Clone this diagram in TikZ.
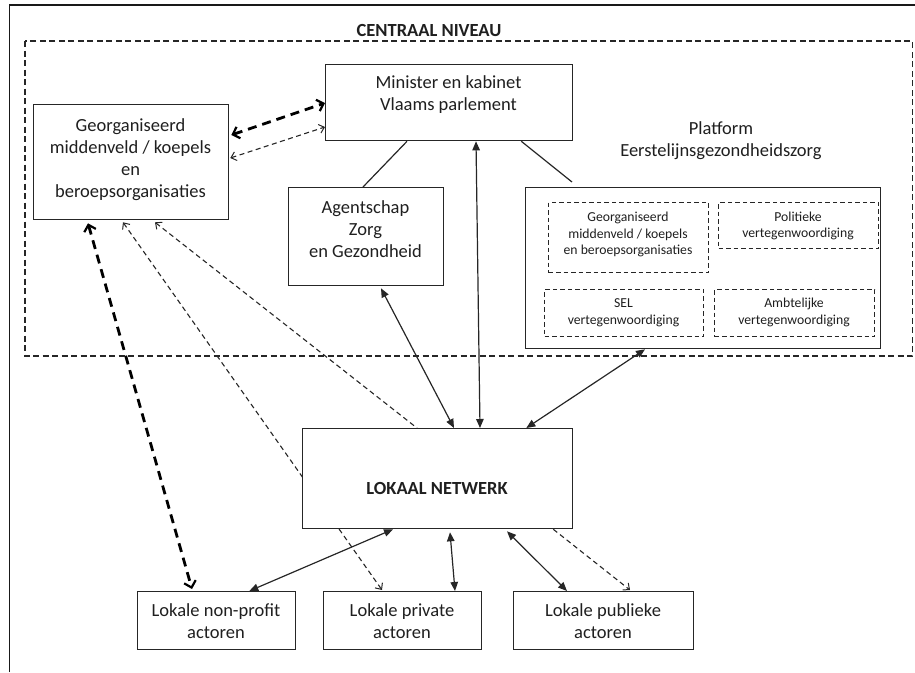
\documentclass[tikz,border=0pt]{standalone}
\usepackage{fontspec}
\setmainfont{Carlito}
\usetikzlibrary{arrows.meta,backgrounds}
\tikzset{
  thinhead/.tip={Straight Barb[length=5pt,width=9pt,line width=1pt]},
  thickhead/.tip={Straight Barb[length=6pt,width=12pt,line width=2.2pt]},
  solidhead/.tip={Triangle[length=9pt,width=7.5pt]}
}
\begin{document}
\begin{tikzpicture}[x=1pt,y=-1pt,
  box/.style={draw=black!85, line width=1.3pt, fill=white, inner sep=0pt, anchor=north west},
  dbox/.style={draw=black!85, line width=1.1pt, dash pattern=on 4.5pt off 3pt, inner sep=0pt, anchor=north west},
  txt/.style={align=center, font=\fontsize{18.5}{22}\selectfont, text=black!88, inner sep=0pt},
  btxt/.style={align=center, font=\fontsize{18.5}{22}\selectfont\bfseries, text=black!88, inner sep=0pt},
  stxt/.style={align=center, font=\fontsize{13.7}{16.5}\selectfont, text=black!88, inner sep=0pt},
  solidarrow/.style={draw=black!85, line width=1.2pt, solidhead-solidhead},
  solidline/.style={draw=black!85, line width=1.2pt},
  thindash/.style={draw=black!85, line width=1.1pt, dash pattern=on 5pt off 3.5pt},
  thickdash/.style={draw=black, line width=2.8pt, dash pattern=on 9pt off 6pt}
]
\useasboundingbox (0,0) rectangle (915,672);
% outer frame (right and bottom edges lie outside the picture)
\draw[line width=1.8pt, draw=black!90] (9.5,672) -- (9.5,5) -- (916,5);
% central level
\node[btxt] (central) at (429,31) {CENTRAAL NIVEAU};
\draw[draw=black!85, line width=1.3pt, dash pattern=on 6pt off 3.5pt] (25,41) rectangle (912.5,356);

% boxes
\node[box, minimum width=247pt, minimum height=76pt] (minister) at (325,64) {};
\node[txt] (ministert) at (448.5,95) {Minister en kabinet\\Vlaams parlement};

\node[box, minimum width=195pt, minimum height=115pt] (georg) at (33,104) {};
\node[txt] (georgt) at (130.5,160) {Georganiseerd\\middenveld / koepels\\en\\beroepsorganisaties};

\node[box, minimum width=155pt, minimum height=98pt] (agent) at (288,187) {};
\node[txt] (agentt) at (365.5,229.5) {Agentschap\\Zorg\\en Gezondheid};

\node[txt] (platformt) at (721,141) {Platform\\Eerstelijnsgezondheidszorg};
\node[box, minimum width=355pt, minimum height=161pt] (platform) at (525,187) {};

\node[dbox, minimum width=160pt, minimum height=70pt] (pa) at (548,202) {};
\node[stxt] (pat) at (628,234.5) {Georganiseerd\\middenveld / koepels\\en beroepsorganisaties};
\node[dbox, minimum width=160pt, minimum height=46pt] (pb) at (718,202) {};
\node[stxt] (pbt) at (798,226) {Politieke\\vertegenwoordiging};
\node[dbox, minimum width=159pt, minimum height=47pt] (pc) at (544,289) {};
\node[stxt] (pct) at (623.5,312.5) {SEL\\vertegenwoordiging};
\node[dbox, minimum width=160pt, minimum height=47pt] (pd) at (714,289) {};
\node[stxt] (pdt) at (794,312.5) {Ambtelijke\\vertegenwoordiging};

\node[box, minimum width=270pt, minimum height=100pt] (lokaal) at (302,428) {};
\node[btxt] (lokaalt) at (437,488) {LOKAAL NETWERK};

\node[box, minimum width=158pt, minimum height=58pt] (nonprofit) at (137,591) {};
\node[txt] (nonprofitt) at (216,621.5) {Lokale non-profit\\actoren};
\node[box, minimum width=158pt, minimum height=58pt] (private) at (323,591) {};
\node[txt] (privatet) at (402,621.5) {Lokale private\\actoren};
\node[box, minimum width=180pt, minimum height=58pt] (publiek) at (513,591) {};
\node[txt] (publiekt) at (603,621.5) {Lokale publieke\\actoren};

\coordinate (platformtop) at ([xshift=47pt,yshift=5pt]platform.north west);

\begin{pgfonlayer}{background}
% thick dashed
\draw[thickdash, thickhead-thickhead] ([xshift=2pt,yshift=-31pt]georg.north east) -- ([yshift=-39pt]minister.north west);
\draw[thickdash, thickhead-thickhead] ([xshift=55pt,yshift=-3pt]georg.south west) -- ([xshift=55pt,yshift=2pt]nonprofit.north west);
% thin dashed
\draw[thindash, thinhead-thinhead] ([xshift=1pt,yshift=-54pt]georg.north east) -- ([yshift=-63pt]minister.north west);
\draw[thindash, thinhead-thinhead] ([xshift=90pt,yshift=-2pt]georg.south west) -- ([xshift=59pt,yshift=1pt]private.north west);
\draw[thindash, thinhead-] ([xshift=122pt,yshift=-2pt]georg.south west) -- ([xshift=115pt]lokaal.north west);
\draw[thindash, -thinhead] ([xshift=-20pt]lokaal.south east) -- ([xshift=117pt,yshift=1pt]publiek.north west);
% solid lines
\draw[solidline] ([xshift=82pt]minister.south west) -- ([xshift=75pt]agent.north west);
\draw[solidline] ([xshift=-52pt]minister.south east) -- (platformtop);
% solid arrows
\draw[solidarrow] ([xshift=151pt]minister.south west) -- ([xshift=178pt]lokaal.north west);
\draw[solidarrow] ([xshift=93pt,yshift=-2pt]agent.south west) -- ([xshift=152pt]lokaal.north west);
\draw[solidarrow] ([xshift=120pt]platform.south west) -- ([xshift=-47pt]lokaal.north east);
\draw[solidarrow] ([xshift=91pt]lokaal.south west) -- ([xshift=-47pt]nonprofit.north east);
\draw[solidarrow] ([xshift=148pt,yshift=-3pt]lokaal.south west) -- ([xshift=132pt]private.north west);
\draw[solidarrow] ([xshift=205pt,yshift=-2pt]lokaal.south west) -- ([xshift=54pt]publiek.north west);
\end{pgfonlayer}
\end{tikzpicture}
\end{document}
